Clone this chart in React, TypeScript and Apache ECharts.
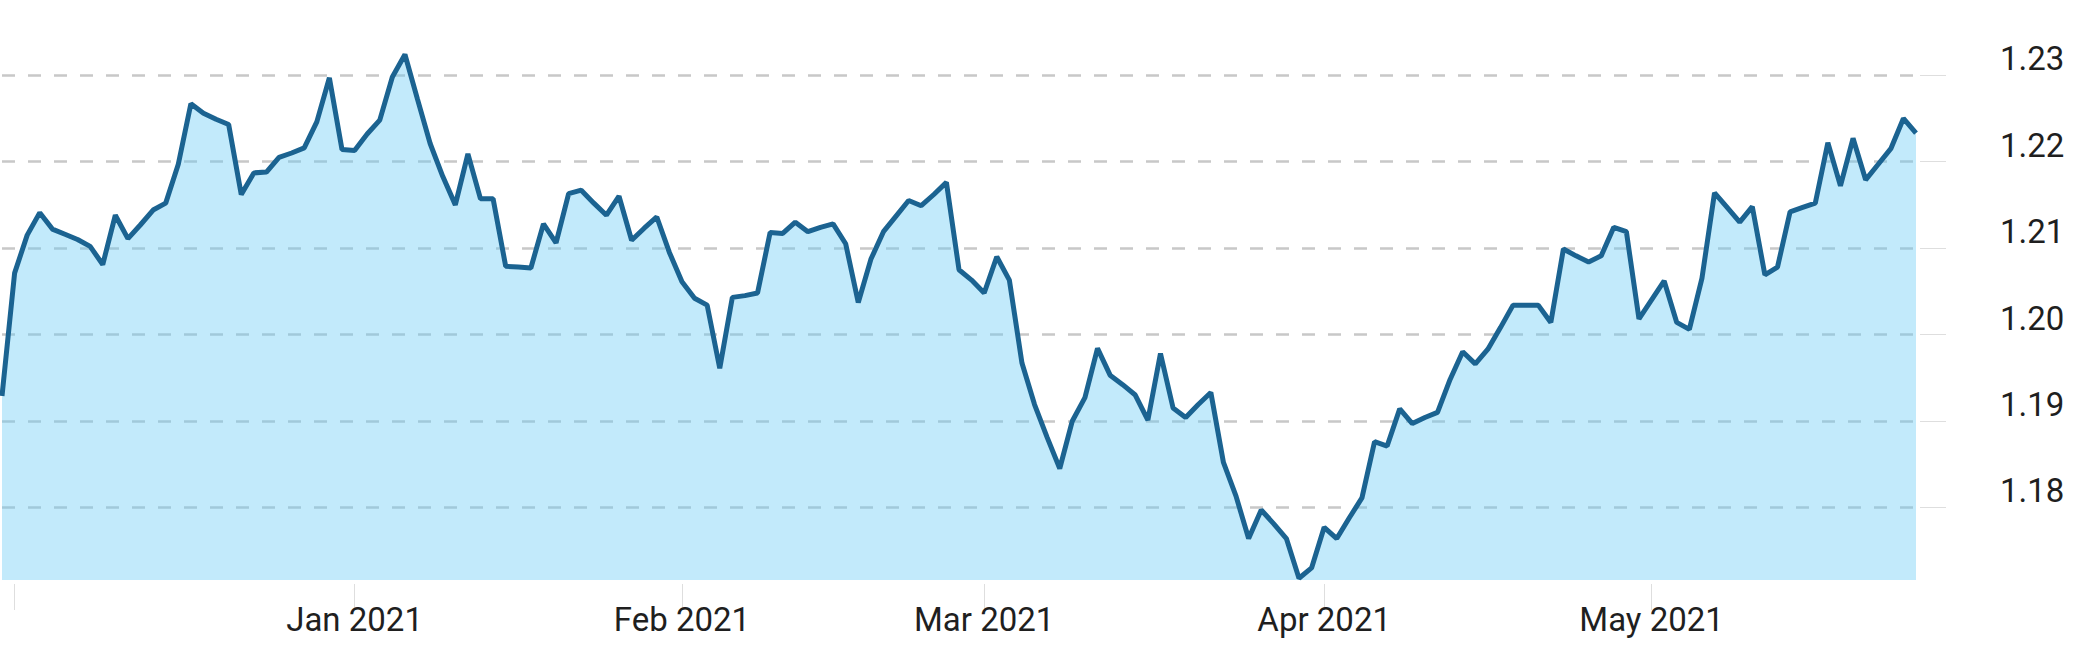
import React, { useEffect, useRef } from "react";
import * as echarts from "echarts";

// First trading day shown; the source series skips Saturdays (Sun–Fri bars).
const startDate = "2020-11-30";

// Daily closing values
const values: number[] = [
  1.1929, 1.2071, 1.2115, 1.2141, 1.2122, 1.2116, 1.211, 1.2102, 1.2081, 1.2138,
  1.2111, 1.2127, 1.2144, 1.2152, 1.2197, 1.2267, 1.2256, 1.2249, 1.2243, 1.2162,
  1.2187, 1.2188, 1.2205, 1.221, 1.2216, 1.2246, 1.2297, 1.2214, 1.2213, 1.2232,
  1.2248, 1.2298, 1.2324, 1.2272, 1.2221, 1.2183, 1.215, 1.2209, 1.2157, 1.2157,
  1.2079, 1.2078, 1.2077, 1.2128, 1.2106, 1.2163, 1.2167, 1.2152, 1.2138, 1.216,
  1.2109, 1.2123, 1.2136, 1.2095, 1.2061, 1.2042, 1.2034, 1.1961, 1.2043, 1.2045,
  1.2048, 1.2118, 1.2117, 1.213, 1.2119, 1.2124, 1.2128, 1.2105, 1.2037, 1.2087,
  1.2119, 1.2137, 1.2155, 1.2149, 1.2162, 1.2176, 1.2075, 1.2063, 1.2048, 1.209,
  1.2063, 1.1967, 1.1919, 1.1881, 1.1845, 1.19, 1.1927, 1.1984, 1.1953, 1.1942,
  1.193, 1.1901, 1.1978, 1.1915, 1.1904, 1.1919, 1.1933, 1.1852, 1.1813, 1.1764,
  1.1797, 1.1781, 1.1764, 1.1718, 1.173, 1.1777, 1.1764, 1.1788, 1.1811, 1.1876,
  1.1871, 1.1914, 1.1897, 1.1904, 1.191, 1.1948, 1.198, 1.1966, 1.1983, 1.2008,
  1.2034, 1.2034, 1.2034, 1.2014, 1.2099, 1.2091, 1.2084, 1.2091, 1.2124, 1.2119,
  1.2018, 1.204, 1.2062, 1.2014, 1.2006, 1.2065, 1.2164, 1.2147, 1.213, 1.2148,
  1.2069, 1.2078, 1.2142, 1.2147, 1.2152, 1.2222, 1.2172, 1.2227, 1.2179, 1.2197,
  1.2215, 1.225, 1.2233,
];

// Month tick labels, in order of the month starts on the axis (Dec tick has no label)
const monthTickLabels: string[] = ["", "Jan 2021", "Feb 2021", "Mar 2021", "Apr 2021", "May 2021"];

// Y axis tick values
const yTicks: number[] = [1.18, 1.19, 1.2, 1.21, 1.22, 1.23];
const yMin = 1.1716;
const yMax = 1.235;

function buildDates(start: string, n: number): string[] {
  const out: string[] = [];
  const d = new Date(start + "T00:00:00Z");
  while (out.length < n) {
    if (d.getUTCDay() !== 6) out.push(d.toISOString().slice(0, 10));
    d.setUTCDate(d.getUTCDate() + 1);
  }
  return out;
}

export default function App() {
  const ref = useRef<HTMLDivElement>(null);

  useEffect(() => {
    if (!ref.current) return;
    const chart = echarts.init(ref.current, undefined, { renderer: "svg" });

    const dates = buildDates(startDate, values.length);
    const monthStartIdx: number[] = [];
    dates.forEach((d, i) => {
      if (i > 0 && d.slice(0, 7) !== dates[i - 1].slice(0, 7)) monthStartIdx.push(i);
    });
    const labelFor = new Map<number, string>();
    monthStartIdx.forEach((idx, k) => labelFor.set(idx, monthTickLabels[k] || ""));

    const textColor = "#1f1f1f";

    chart.setOption({
      animation: false,
      backgroundColor: "#ffffff",
      grid: {
        left: 2,
        right: 181,
        top: 32,
        bottom: 69,
        containLabel: false,
        outerBoundsMode: "none",
      },
      xAxis: {
        type: "category",
        data: dates,
        boundaryGap: false,
        offset: 4,
        axisLine: { show: false },
        axisTick: {
          show: true,
          length: 26,
          interval: (index: number) => labelFor.has(index),
          lineStyle: { color: "#dedede", width: 1 },
        },
        axisLabel: {
          show: true,
          interval: (index: number) => !!labelFor.get(index),
          formatter: (_v: string, index: number) => labelFor.get(index) || "",
          margin: 19,
          fontFamily: "Roboto",
          fontSize: 33,
          color: textColor,
        },
        splitLine: { show: false },
      },
      yAxis: {
        type: "value",
        position: "right",
        min: yMin,
        max: yMax,
        offset: 4,
        axisLine: { show: false },
        axisTick: {
          show: true,
          length: 26,
          customValues: yTicks,
          lineStyle: { color: "#dedede", width: 1 },
        },
        axisLabel: {
          show: true,
          customValues: yTicks,
          margin: 80,
          fontFamily: "Roboto",
          fontSize: 33,
          color: textColor,
          verticalAlign: "bottom",
          lineHeight: 33,
          formatter: (v: number) => v.toFixed(2),
        },
        splitLine: {
          show: true,
          lineStyle: { color: "#c8c8c8", width: 2.5, type: [13, 13] },
        },
      },
      series: [
        {
          type: "line",
          data: values,
          showSymbol: false,
          symbol: "none",
          lineStyle: { color: "#1b6391", width: 5 },
          itemStyle: { color: "#1b6391" },
          areaStyle: { color: "rgba(102,202,245,0.4)", opacity: 1, origin: "start" },
        },
      ],
    });

    return () => chart.dispose();
  }, []);

  return (
    <div
      ref={ref}
      style={{ position: "fixed", left: 0, top: 0, width: 2097, height: 649 }}
    />
  );
}
